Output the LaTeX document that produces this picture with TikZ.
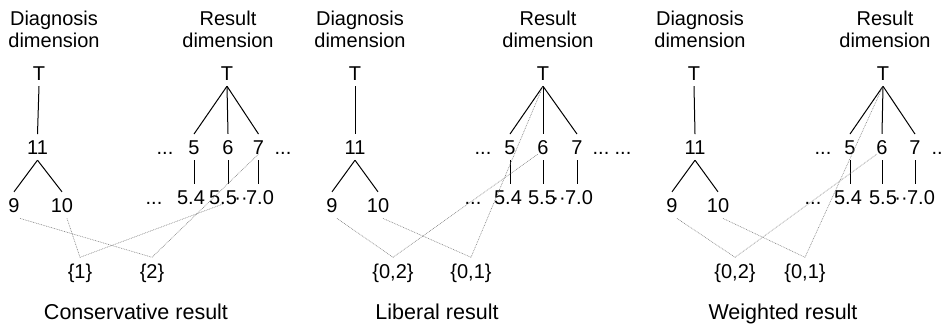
\documentclass[tikz,border=0pt]{standalone}
\usepackage{fontspec}
\setmainfont{Liberation Sans}
\begin{document}
\begin{tikzpicture}[x=1pt,y=-1pt,
  lbl/.style={font=\fontsize{20}{22}\selectfont, inner sep=6pt, anchor=base},
  hdr/.style={font=\fontsize{20}{22}\selectfont, inner sep=0pt, align=center, anchor=base},
  captext/.style={font=\fontsize{21.5}{24}\selectfont, inner sep=0pt, anchor=base},
  tree/.style={line width=1pt, black},
  link/.style={gray, line width=0.6pt, dash pattern=on 0.8pt off 0.9pt}]
\useasboundingbox (0,0) rectangle (942,332);

% ---------- Panel 1: Conservative ----------
\node[hdr] (d1) at (54,47) {Diagnosis\\dimension};
\node[hdr] (r1) at (228,47) {Result\\dimension};
\node[lbl] (td1) at (39,80) {T};
\node[lbl] (e1) at (37.5,154) {11};
\node[lbl] (a1) at (14,212) {9};
\node[lbl] (b1) at (62,212) {10};
\node[lbl] (tr1) at (227,80) {T};
\node[lbl] (u1) at (165,154) {...};
\node[lbl] (f1) at (194,154) {5};
\node[lbl] (g1) at (228,154) {6};
\node[lbl] (h1) at (258.5,154) {7};
\node[lbl] (v1) at (283,154) {...};
\node[lbl] (w1) at (154,204) {...};
\node[lbl] (fa1) at (191,204) {5.4};
\node[lbl] (ga1) at (223,204) {5.5};
\node[lbl] (m1) at (241,204) {··};
\node[lbl] (ha1) at (260,204) {7.0};
\node[lbl] (s1) at (80,278) {\{1\}};
\node[lbl] (t1) at (152,278) {\{2\}};
\node[captext] (c1) at (136,319) {Conservative result};

\draw[tree] (td1.south) -- (e1.north);
\draw[tree] (e1.south) -- (a1.north);
\draw[tree] (e1.south) -- (b1.north);
\draw[tree] (tr1.south) -- (f1.north);
\draw[tree] (tr1.south) -- (g1.north);
\draw[tree] (tr1.south) -- (h1.north);
\draw[tree] (f1.south) -- (f1.south |- fa1.north);
\draw[tree] (g1.south) -- (g1.south |- ga1.north);
\draw[tree] (h1.south) -- (h1.south |- ha1.north);
\draw[link] ([xshift=6pt]a1.south) -- (t1.north);
\draw[link] ([xshift=5pt]b1.south) -- (s1.north);
\draw[link] (s1.north) -- (ga1.base);
\draw[link] (t1.north) -- (h1.base);

% ---------- Panel 2: Liberal ----------
\node[hdr] (d2) at (360,47) {Diagnosis\\dimension};
\node[hdr] (r2) at (548,47) {Result\\dimension};
\node[lbl] (td2) at (355,80) {T};
\node[lbl] (e2) at (355,154) {11};
\node[lbl] (a2) at (332,212) {9};
\node[lbl] (b2) at (378,212) {10};
\node[lbl] (tr2) at (543,80) {T};
\node[lbl] (u2) at (483,154) {...};
\node[lbl] (f2) at (510,154) {5};
\node[lbl] (g2) at (543,154) {6};
\node[lbl] (h2) at (577,154) {7};
\node[lbl] (v2) at (601,154) {...};
\node[lbl] (x2) at (623,154) {...};
\node[lbl] (w2) at (473,204) {...};
\node[lbl] (fa2) at (508,204) {5.4};
\node[lbl] (ga2) at (542,204) {5.5};
\node[lbl] (m2) at (559,204) {··};
\node[lbl] (ha2) at (579,204) {7.0};
\node[lbl] (s2) at (393,278) {\{0,2\}};
\node[lbl] (t2) at (471,278) {\{0,1\}};
\node[captext] (c2) at (437,319) {Liberal result};

\draw[tree] (td2.south) -- (e2.north);
\draw[tree] (e2.south) -- (a2.north);
\draw[tree] (e2.south) -- (b2.north);
\draw[tree] (tr2.south) -- (f2.north);
\draw[tree] (tr2.south) -- (g2.north);
\draw[tree] (tr2.south) -- (h2.north);
\draw[tree] (f2.south) -- (f2.south |- fa2.north);
\draw[tree] (g2.south) -- (g2.south |- ga2.north);
\draw[tree] (h2.south) -- (h2.south |- ha2.north);
\draw[link] ([xshift=5pt]a2.south) -- (s2.north);
\draw[link] ([xshift=5pt]b2.south) -- (t2.north);
\draw[link] (s2.north) -- ([xshift=-5pt]g2.base);
\draw[link] (t2.north) -- (tr2.south);

% ---------- Panel 3: Weighted ----------
\node[hdr] (d3) at (700,47) {Diagnosis\\dimension};
\node[hdr] (r3) at (885,47) {Result\\dimension};
\node[lbl] (td3) at (694,80) {T};
\node[lbl] (e3) at (695,154) {11};
\node[lbl] (a3) at (672,212) {9};
\node[lbl] (b3) at (718,212) {10};
\node[lbl] (tr3) at (883,80) {T};
\node[lbl] (u3) at (823,154) {...};
\node[lbl] (f3) at (850,154) {5};
\node[lbl] (g3) at (882,154) {6};
\node[lbl] (h3) at (915,154) {7};
\node[lbl] (v3) at (940,154) {...};
\node[lbl] (w3) at (813,204) {...};
\node[lbl] (fa3) at (848,204) {5.4};
\node[lbl] (ga3) at (883,204) {5.5};
\node[lbl] (m3) at (901,204) {··};
\node[lbl] (ha3) at (921,204) {7.0};
\node[lbl] (s3) at (735,278) {\{0,2\}};
\node[lbl] (t3) at (805,278) {\{0,1\}};
\node[captext] (c3) at (783,319) {Weighted result};

\draw[tree] (td3.south) -- (e3.north);
\draw[tree] (e3.south) -- (a3.north);
\draw[tree] (e3.south) -- (b3.north);
\draw[tree] (tr3.south) -- (f3.north);
\draw[tree] (tr3.south) -- (g3.north);
\draw[tree] (tr3.south) -- (h3.north);
\draw[tree] (f3.south) -- (f3.south |- fa3.north);
\draw[tree] (g3.south) -- (g3.south |- ga3.north);
\draw[tree] (h3.south) -- (h3.south |- ha3.north);
\draw[link] ([xshift=5pt]a3.south) -- (s3.north);
\draw[link] ([xshift=5pt]b3.south) -- (t3.north);
\draw[link] (s3.north) -- ([xshift=-5pt]g3.base);
\draw[link] (t3.north) -- (tr3.south);
\end{tikzpicture}
\end{document}
